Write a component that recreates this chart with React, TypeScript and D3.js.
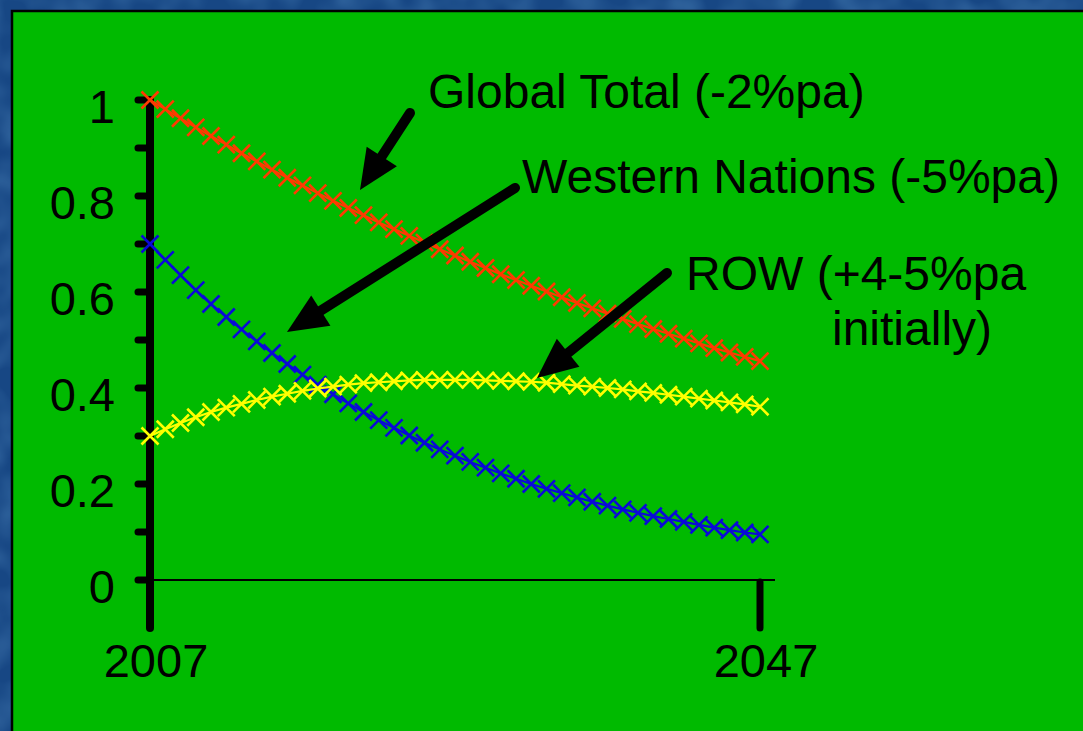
import React from "react";
import * as d3 from "d3";

// Years covered by the projection, one point per year
const years: number[] = d3.range(2007, 2048);

// Relative consumption, indexed to the 2007 global total
const globalTotal: number[] = [
  1.0, 0.981, 0.962, 0.943, 0.925, 0.907, 0.889, 0.872, 0.855, 0.838,
  0.822, 0.806, 0.79, 0.775, 0.76, 0.745, 0.731, 0.717, 0.703, 0.689,
  0.676, 0.663, 0.65, 0.637, 0.625, 0.613, 0.601, 0.589, 0.577, 0.566,
  0.555, 0.544, 0.533, 0.523, 0.513, 0.503, 0.493, 0.483, 0.474, 0.465,
  0.456,
];
const westernNations: number[] = [
  0.7, 0.667, 0.635, 0.604, 0.575, 0.548, 0.522, 0.497, 0.473, 0.45,
  0.428, 0.407, 0.387, 0.368, 0.35, 0.333, 0.317, 0.301, 0.286, 0.272,
  0.259, 0.246, 0.234, 0.222, 0.211, 0.2, 0.19, 0.181, 0.172, 0.163,
  0.155, 0.147, 0.14, 0.133, 0.127, 0.121, 0.115, 0.109, 0.104, 0.099,
  0.095,
];
const restOfWorld: number[] = [
  0.3, 0.314, 0.327, 0.339, 0.35, 0.359, 0.367, 0.375, 0.382, 0.388,
  0.394, 0.399, 0.403, 0.407, 0.41, 0.412, 0.414, 0.416, 0.417, 0.417,
  0.417, 0.417, 0.416, 0.415, 0.414, 0.413, 0.411, 0.408, 0.405, 0.403,
  0.4, 0.397, 0.393, 0.39, 0.386, 0.382, 0.378, 0.374, 0.37, 0.366,
  0.361,
];

const yTicks: number[] = d3.range(0, 11).map((d) => d / 10);
const yTickLabels: string[] = ["0", "0.2", "0.4", "0.6", "0.8", "1"];
const yLabelValues: number[] = [0, 0.2, 0.4, 0.6, 0.8, 1];
const xTickLabels: string[] = ["2007", "2047"];
const xLabelValues: number[] = [2007, 2047];

const W = 1083;
const H = 731;
const FONT = "'Liberation Sans', Arial, Helvetica, sans-serif";

const x = d3.scaleLinear().domain([2007, 2047]).range([150, 760]);
const y = d3.scaleLinear().domain([0, 1]).range([580, 100]);

type Series = { name: string; values: number[]; color: string };
const series: Series[] = [
  { name: "western", values: westernNations, color: "#0a0ad8" },
  { name: "global", values: globalTotal, color: "#ff3a00" },
  { name: "row", values: restOfWorld, color: "#ffff00" },
];

// Annotation arrows: [tail, tip] in pixels
const arrows: [number, number, number, number][] = [
  [410, 113, 360, 190],
  [515, 188, 287, 332],
  [667, 273, 537, 378],
];

function Arrow({ x1, y1, x2, y2 }: { x1: number; y1: number; x2: number; y2: number }) {
  const dx = x2 - x1;
  const dy = y2 - y1;
  const len = Math.hypot(dx, dy);
  const ux = dx / len;
  const uy = dy / len;
  const headLen = 40;
  const headHalf = 18;
  const bx = x2 - ux * headLen;
  const by = y2 - uy * headLen;
  const px = -uy;
  const py = ux;
  const pts = [
    [x2, y2],
    [bx + px * headHalf, by + py * headHalf],
    [bx - px * headHalf, by - py * headHalf],
  ];
  return (
    <g>
      <line
        x1={x1}
        y1={y1}
        x2={bx + ux * 4}
        y2={by + uy * 4}
        stroke="#000"
        strokeWidth={10}
        strokeLinecap="round"
      />
      <polygon points={pts.map((p) => p.join(",")).join(" ")} fill="#000" />
    </g>
  );
}

export default function App() {
  const line = d3
    .line<number>()
    .x((_, i) => x(years[i]))
    .y((d) => y(d));
  const m = 8.5;

  return (
    <svg
      width={W}
      height={H}
      style={{ position: "absolute", left: 0, top: 0, display: "block" }}
      fontFamily={FONT}
    >
      <defs>
        <filter id="mottle" x="0" y="0" width="100%" height="100%">
          <feTurbulence type="fractalNoise" baseFrequency="0.03" numOctaves={2} seed={4} />
          <feColorMatrix
            type="matrix"
            values="0 0 0 0 0.12  0 0 0 0 0.33  0 0 0 0 0.62  0 0 0 1.0 -0.35"
          />
        </filter>
      </defs>
      <rect x={0} y={0} width={W} height={H} fill="#174784" />
      <rect x={0} y={0} width={W} height={H} filter="url(#mottle)" opacity={0.7} />
      <rect x={12} y={11} width={W + 10} height={H + 10} fill="#00ba00" stroke="#000" strokeWidth={2.5} />

      {/* zero line */}
      <line x1={x(2007)} x2={775} y1={y(0)} y2={y(0)} stroke="#000" strokeWidth={2} />

      {/* vertical axis with ticks */}
      <line x1={x(2007)} x2={x(2007)} y1={y(1)} y2={628} stroke="#000" strokeWidth={8} strokeLinecap="round" />
      {yTicks.map((t) => (
        <line
          key={t}
          x1={138}
          x2={x(2007)}
          y1={y(t)}
          y2={y(t)}
          stroke="#000"
          strokeWidth={7}
          strokeLinecap="round"
        />
      ))}
      <line x1={x(2047)} x2={x(2047)} y1={y(0) + 2} y2={628} stroke="#000" strokeWidth={7} strokeLinecap="round" />

      {yLabelValues.map((v, i) => (
        <text
          key={v}
          x={115}
          y={y(v) + 23}
          textAnchor="end"
          fontSize={47}
          fill="#000"
        >
          {yTickLabels[i]}
        </text>
      ))}
      {xLabelValues.map((v, i) => (
        <text key={v} x={x(v) + 6} y={677} textAnchor="middle" fontSize={47} fill="#000">
          {xTickLabels[i]}
        </text>
      ))}

      {/* series */}
      {series.map((s) => (
        <g key={s.name}>
          <path d={line(s.values) || ""} fill="none" stroke={s.color} strokeWidth={2.2} />
          {s.values.map((v, i) => {
            const cx = x(years[i]);
            const cy = y(v);
            return (
              <path
                key={i}
                d={`M${cx - m},${cy - m}L${cx + m},${cy + m}M${cx - m},${cy + m}L${cx + m},${cy - m}`}
                stroke={s.color}
                strokeWidth={2.6}
                fill="none"
              />
            );
          })}
        </g>
      ))}

      {/* annotations */}
      {arrows.map(([a, b, c, d], i) => (
        <Arrow key={i} x1={a} y1={b} x2={c} y2={d} />
      ))}
      <g fontSize={48} fill="#000">
        <text x={428} y={108}>Global Total (-2%pa)</text>
        <text x={522} y={193}>Western Nations (-5%pa)</text>
        <text x={686} y={290}>ROW (+4-5%pa</text>
        <text x={832} y={345}>initially)</text>
      </g>
    </svg>
  );
}
